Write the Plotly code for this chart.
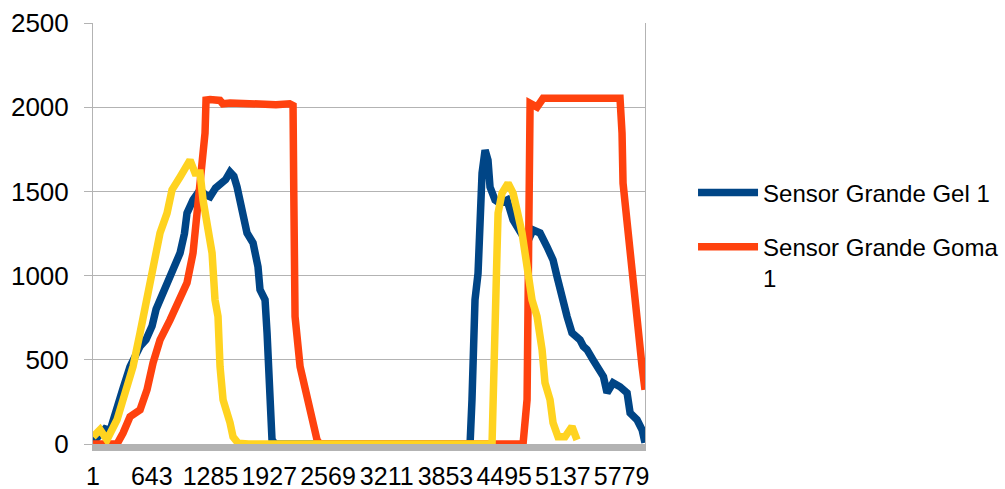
import plotly.graph_objects as go

# ---- data (sample index, value) ----
tick_labels = ["1", "643", "1285", "1927", "2569", "3211", "3853", "4495", "5137", "5779"]
tick_positions = [1, 643, 1285, 1927, 2569, 3211, 3853, 4495, 5137, 5779]
n_samples = 6034

gel_x = [1, 78, 132, 187, 263, 329, 405, 460, 515, 580, 646, 690, 733, 790, 843, 900,
         952, 1000, 1028, 1094, 1171, 1230, 1280, 1340, 1389, 1450, 1498, 1540, 1575,
         1641, 1684, 1750, 1804, 1826, 1881, 1903, 1914, 1936, 1957, 1990, 4122, 4143,
         4154, 4176, 4209, 4231, 4253, 4286, 4318, 4340, 4395, 4450, 4526, 4592, 4668,
         4745, 4810, 4887, 4963, 5029, 5073, 5127, 5182, 5236, 5280, 5324, 5360, 5400,
         5466, 5543, 5580, 5619, 5685, 5761, 5838, 5871, 5947, 6002, 6034]
gel_y = [10, 60, 90, 80, 200, 330, 460, 520, 580, 620, 700, 800, 856, 930, 993, 1060,
         1134, 1250, 1371, 1449, 1509, 1480, 1468, 1520, 1538, 1570, 1615, 1590, 1526,
         1330, 1253, 1194, 1052, 916, 856, 660, 460, 263, 25, 0, 0, 263,
         560, 856, 1013, 1253, 1609, 1745, 1686, 1526, 1449, 1429, 1449, 1330, 1253,
         1194, 1271, 1253, 1171, 1093, 993, 856, 757, 660, 640, 618, 580, 560,
         500, 441, 400, 304, 363, 340, 304, 185, 144, 85, 8]

goma_x = [1, 263, 329, 405, 515, 591, 657, 733, 843, 952, 1028, 1094, 1149, 1192,
          1225, 1236, 1280, 1389, 1420, 1500, 1700, 1800, 2000, 2150, 2187, 2195,
          2200, 2209, 2264, 2340, 2406, 2449, 2480, 4701, 4745, 4756, 4767, 4778,
          4854, 4920, 5761, 5783, 5794, 5849, 5903, 5958, 6002, 6034]
goma_y = [0, 0, 65, 162, 203, 322, 482, 618, 737, 856, 957, 1134, 1407, 1645,
          1846, 2042, 2045, 2040, 2020, 2025, 2020, 2025, 2015, 2020, 2010, 1500,
          1000, 757, 460, 263, 85, 25, 0, 0, 263, 1053, 1846, 2023,
          2001, 2053, 2053, 1846, 1549, 1253, 897, 660, 460, 322]

third_x = [1, 78, 153, 219, 263, 329, 438, 515, 591, 657, 733, 810, 864, 952, 1028,
           1061, 1116, 1171, 1203, 1247, 1302, 1334, 1367, 1389, 1422, 1498, 1531,
           1586, 1700, 4362, 4373, 4395, 4417, 4428, 4471, 4537, 4592, 4635, 4690,
           4745, 4799, 4854, 4909, 4941, 4996, 5029, 5083, 5160, 5236, 5291]
third_y = [43, 85, 25, 103, 144, 263, 460, 660, 856, 1053, 1253, 1371, 1509, 1586,
           1668, 1686, 1609, 1609, 1449, 1289, 1134, 856, 757, 460, 263, 126, 43,
           5, 0, 0, 363, 856, 1152, 1371, 1490, 1549, 1490, 1389, 1253,
           1053, 856, 757, 560, 363, 263, 126, 43, 43, 103, 25]

series_names = ["Sensor Grande Gel 1", "Sensor Grande Goma<br>1", "Sensor Grande Goma 2"]
series_colors = ["#004586", "#ff420e", "#ffd320"]

FONT = "Liberation Sans, Arial, sans-serif"
GRID = "#b3b3b3"

fig = go.Figure()
for xs, ys, name, color, show, grp in [
    (gel_x, gel_y, series_names[0], series_colors[0], True, "a"),
    (goma_x, goma_y, series_names[1], series_colors[1], True, "b"),
    (third_x, third_y, series_names[2], series_colors[2], False, "c"),
]:
    fig.add_trace(go.Scatter(
        x=xs, y=ys, mode="lines", name=name, showlegend=show, legendgroup=grp,
        line=dict(color=color, width=7.5), cliponaxis=True,
    ))

fig.update_layout(
    width=1005, height=489,
    margin=dict(l=93, r=360, t=23, b=45, autoexpand=False),
    paper_bgcolor="white", plot_bgcolor="white",
    font=dict(family=FONT, size=24, color="#000000"),
    legend=dict(
        x=1.087, xanchor="left", y=0.65, yanchor="top", valign="top",
        font=dict(family=FONT, size=24, color="#000000"),
        itemwidth=60, tracegroupgap=20, bgcolor="rgba(0,0,0,0)",
    ),
    xaxis=dict(
        range=[0.5, n_samples], tickmode="array", tickvals=tick_positions,
        ticktext=tick_labels, showgrid=False, zeroline=False, automargin=False,
        showline=True, linecolor=GRID, linewidth=7, ticks="",
        ticklabelstandoff=4, tickangle=0,
        tickfont=dict(family=FONT, size=25, color="#000000"),
    ),
    yaxis=dict(
        range=[0, 2500], tickmode="array", tickvals=[0, 500, 1000, 1500, 2000, 2500],
        showgrid=True, gridcolor=GRID, gridwidth=1, zeroline=False, automargin=False,
        showline=True, mirror=True, linecolor=GRID, linewidth=1,
        ticks="outside", ticklen=8, tickcolor=GRID, tickwidth=1,
        ticklabelstandoff=10,
        tickfont=dict(family=FONT, size=26, color="#000000"),
    ),
)

fig.write_html("out.html")
